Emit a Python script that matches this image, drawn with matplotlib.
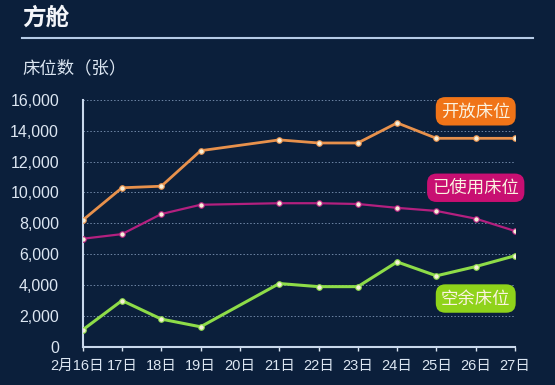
import numpy as np
import matplotlib
matplotlib.use("Agg")
import matplotlib.pyplot as plt
import matplotlib.transforms as mtransforms

plt.rcParams['font.family'] = ['Noto Sans CJK SC', 'DejaVu Sans']

# data (no value on 2/20)
dates = ['2月16日', '17日', '18日', '19日', '20日', '21日', '22日', '23日', '24日', '25日', '26日', '27日']
open_beds = [8200, 10300, 10400, 12700, np.nan, 13400, 13200, 13200, 14500, 13500, 13500, 13500]
used_beds = [7000, 7300, 8600, 9200, np.nan, 9300, 9300, 9250, 9000, 8800, 8300, 7500]
free_beds = [1100, 3000, 1800, 1300, np.nan, 4100, 3900, 3900, 5500, 4600, 5200, 5900]
series_names = ['开放床位', '已使用床位', '空余床位']
yticks = [0, 2000, 4000, 6000, 8000, 10000, 12000, 14000, 16000]

bg = '#0b1f3b'
fg = '#dce6f2'
tick_font = ['Liberation Sans', 'Noto Sans CJK SC']

fig = plt.figure(figsize=(5.55, 3.85), dpi=100, facecolor=bg)
ax = fig.add_axes([0.149, 0.099, 0.779, 0.642], facecolor=bg)

x = np.arange(len(dates))
colors = ['#e8914c', '#b3207f', '#8edc48']
for vals, c, lw in zip([open_beds, used_beds, free_beds], colors, [2.0, 1.6, 2.2]):
    v = np.array(vals, dtype=float)
    m = ~np.isnan(v)
    ax.plot(x[m], v[m], color=c, lw=lw, marker='o', ms=4,
            mfc='#f6efd8', mec=c, mew=0.8, zorder=3)

# series labels in rounded boxes
box_y = [15250, 10300, 3130]
box_c = ['#f07418', '#c80f72', '#8fd31a']
for name, yy, bc in zip(series_names, box_y, box_c):
    ax.text(10, yy, name, ha='center', va='center', fontsize=12.5, color='#fbf3e0',
            bbox=dict(boxstyle='round,pad=0.3,rounding_size=0.55', fc=bc, ec='none'),
            zorder=4)

ax.set_xlim(0, 11)
ax.set_ylim(0, 16000)
ax.set_xticks(x)
ax.set_xticklabels(dates, family=tick_font, fontsize=10.5)
ax.set_yticks(yticks)
ax.set_yticklabels([f'{t:,}' for t in yticks], family=tick_font, fontsize=11.5)
ax.tick_params(colors=fg, length=3, width=1)
ax.tick_params(axis='y', length=0, pad=17)
ax.tick_params(axis='x', pad=6)
# first date label sits a little left of its tick, as in the original
lab0 = ax.xaxis.get_major_ticks()[0].label1
lab0.set_transform(lab0.get_transform() + mtransforms.ScaledTranslation(-6 / 100, 0, fig.dpi_scale_trans))
ax.grid(axis='y', color='#6f86a6', ls=(0, (1.5, 2)), lw=0.7)
ax.set_axisbelow(True)
for s in ['top', 'right']:
    ax.spines[s].set_visible(False)
for s in ['left', 'bottom']:
    ax.spines[s].set_color('#c9d8ec')
    ax.spines[s].set_linewidth(1.5)

fig.text(0.04, 0.953, '方舱', color='#f4f6fa', fontsize=17, fontweight='bold', va='center')
fig.add_artist(plt.Line2D([0.04, 0.96], [0.901, 0.901], color='#b6cbe6', lw=1.5))
fig.text(0.04, 0.823, '床位数（张）', color=fg, fontsize=12.5, va='center')

fig.savefig('out.png', dpi=100, facecolor=bg)
